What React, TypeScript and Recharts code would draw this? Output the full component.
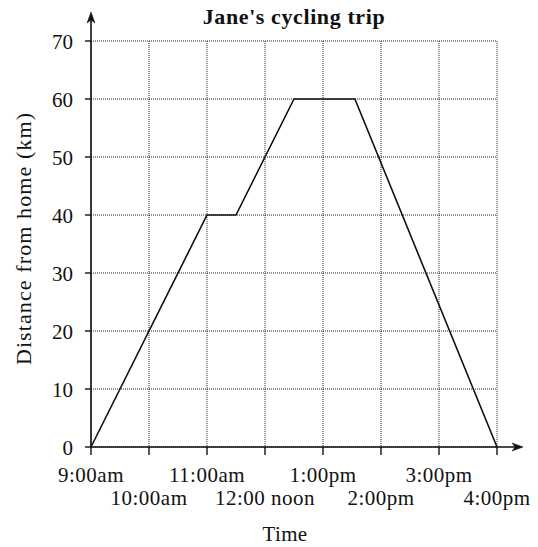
import React from 'react';
import { LineChart, Line, XAxis, YAxis, CartesianGrid, ReferenceLine, Label } from 'recharts';

// ---- data ----
const times: number[] = [9, 11, 11.5, 12.5, 13.55, 16];
const distances: number[] = [0, 40, 40, 60, 60, 0];
const hourTicks: number[] = [9, 10, 11, 12, 13, 14, 15, 16];
const hourLabels: string[] = ['9:00am', '10:00am', '11:00am', '12:00 noon', '1:00pm', '2:00pm', '3:00pm', '4:00pm'];
const distanceTicks: number[] = [0, 10, 20, 30, 40, 50, 60, 70];
const title = "Jane's cycling trip";
const xTitle = 'Time';
const yTitle = 'Distance from home (km)';

const data = times.map((t, i) => ({ time: t, distance: distances[i] }));

const FONT = '"Liberation Serif", "Times New Roman", serif';
const INK = '#111';

const ArrowLine = (props: any) => {
  const { x1, y1, x2, y2 } = props;
  const dx = x2 - x1;
  const dy = y2 - y1;
  const len = Math.hypot(dx, dy) || 1;
  const ux = dx / len;
  const uy = dy / len;
  const L = 11;
  const W = 4;
  const bx = x2 - ux * L;
  const by = y2 - uy * L;
  const px = -uy * W;
  const py = ux * W;
  const nx = bx + ux * 3;
  const ny = by + uy * 3;
  return (
    <g>
      <line x1={x1} y1={y1} x2={bx + ux * 4} y2={by + uy * 4} stroke={INK} strokeWidth={1.6} />
      <polygon
        points={`${x2},${y2} ${bx + px},${by + py} ${nx},${ny} ${bx - px},${by - py}`}
        fill={INK}
        stroke={INK}
        strokeWidth={0.5}
      />
    </g>
  );
};

const HourTick = (props: any) => {
  const { x, y, payload } = props;
  const i = hourTicks.indexOf(payload.value);
  const off = i % 2 === 0 ? 25 : 48;
  return (
    <text x={x} y={y + off} textAnchor="middle" fontSize={21} fill={INK} letterSpacing={0.5} style={{ fontFamily: FONT }}>
      {hourLabels[i]}
    </text>
  );
};

const DistTick = (props: any) => {
  const { x, y, payload } = props;
  return (
    <text x={x} y={y} dy="0.36em" textAnchor="end" fontSize={21} fill={INK} style={{ fontFamily: FONT }}>
      {payload.value}
    </text>
  );
};

const YLabel = (props: any) => {
  const vb = props.viewBox || { x: 0, y: 41, width: 91, height: 406 };
  const cx = vb.x + 30.5;
  const cy = vb.y + vb.height / 2 - 5.5;
  return (
    <text
      x={cx}
      y={cy}
      transform={`rotate(-90, ${cx}, ${cy})`}
      textAnchor="middle"
      fontSize={22}
      fill={INK}
      letterSpacing={1.1}
      style={{ fontFamily: FONT }}
    >
      {yTitle}
    </text>
  );
};

const XLabel = (props: any) => {
  const vb = props.viewBox || { x: 91, y: 447, width: 406, height: 100 };
  const cx = vb.x + vb.width / 2 - 9;
  const cy = vb.y + 94;
  return (
    <text x={cx} y={cy} textAnchor="middle" fontSize={21} fill={INK} letterSpacing={0.4} style={{ fontFamily: FONT }}>
      {xTitle}
    </text>
  );
};

export default function App() {
  return (
    <div style={{ position: 'absolute', left: 0, top: 0, width: 538, height: 547, background: '#fff', fontFamily: FONT }}>
      <div
        style={{
          position: 'absolute',
          left: 194,
          top: 6,
          width: 200,
          textAlign: 'center',
          fontFamily: FONT,
          fontWeight: 'bold',
          fontSize: 22,
          lineHeight: '22px',
          letterSpacing: 0.6,
          color: INK,
          whiteSpace: 'nowrap',
        }}
      >
        {title}
      </div>
      <LineChart
        width={538}
        height={547}
        data={data}
        margin={{ top: 41, right: 41, bottom: 0, left: 0 }}
        style={{ fontFamily: FONT }}
      >
        <CartesianGrid stroke="#222" strokeDasharray="1 1" strokeWidth={1} />
        <XAxis
          dataKey="time"
          type="number"
          domain={[9, 16]}
          ticks={hourTicks}
          interval={0}
          height={100}
          axisLine={false}
          tickLine={{ stroke: INK, strokeWidth: 1.4 }}
          tickSize={8}
          tickMargin={2}
          tick={<HourTick />}
        >
          <Label content={<XLabel />} />
        </XAxis>
        <YAxis
          type="number"
          domain={[0, 70]}
          ticks={distanceTicks}
          interval={0}
          width={91}
          axisLine={false}
          tickLine={{ stroke: INK, strokeWidth: 1.4 }}
          tickSize={6}
          tickMargin={12}
          tick={<DistTick />}
        >
          <Label content={<YLabel />} />
        </YAxis>
        <ReferenceLine
          segment={[{ x: 9, y: 0 }, { x: 16.45, y: 0 }]}
          ifOverflow="visible"
          shape={<ArrowLine />}
        />
        <ReferenceLine
          segment={[{ x: 9, y: 0 }, { x: 9, y: 75 }]}
          ifOverflow="visible"
          shape={<ArrowLine />}
        />
        <Line
          type="linear"
          dataKey="distance"
          stroke={INK}
          strokeWidth={1.6}
          dot={false}
          isAnimationActive={false}
        />
      </LineChart>
    </div>
  );
}
